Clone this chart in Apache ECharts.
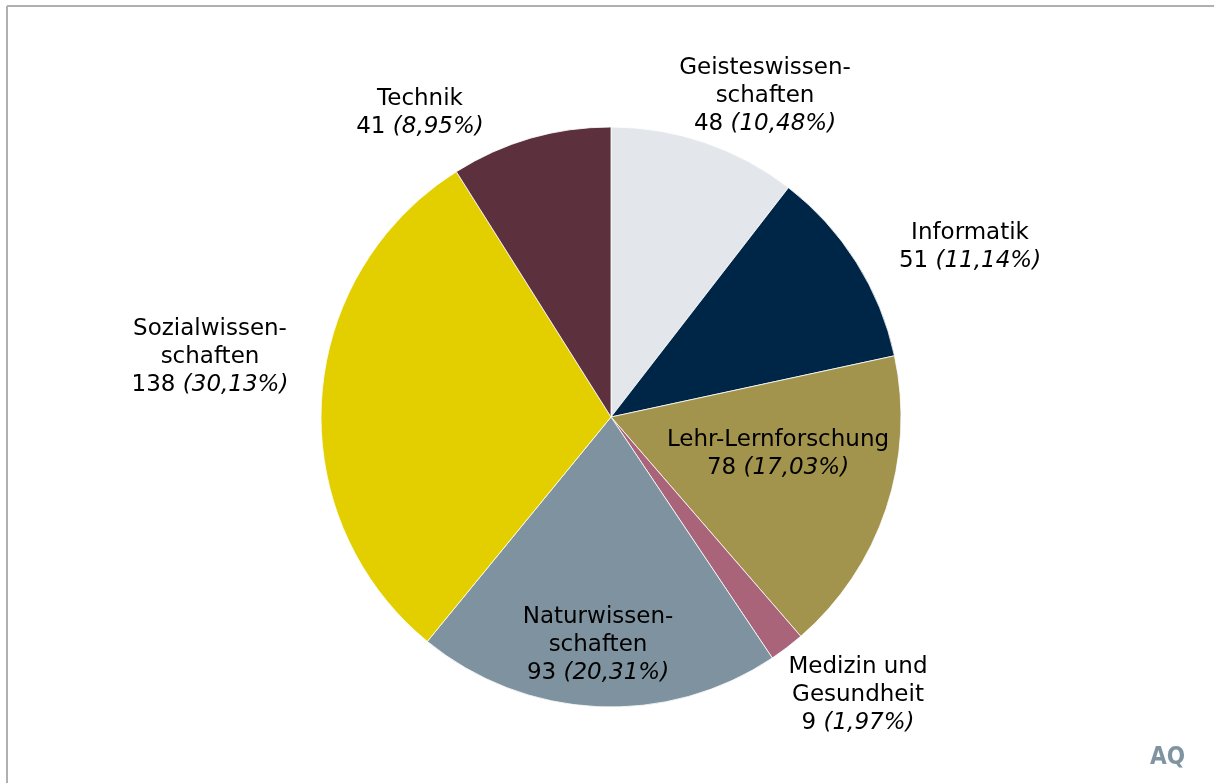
<!DOCTYPE html>
<html>
<head>
    <meta charset="utf-8">
    <script src="https://cdn.jsdelivr.net/npm/echarts@6/dist/echarts.min.js"></script>
    <style>
        html, body { margin: 0; padding: 0; background: #fff; }
    </style>
</head>
<body>
<div id="myChart" style="width: 1214px; height: 783px;"></div>

<script type="text/javascript">
    var chart = echarts.init(document.getElementById('myChart'));

    // Fachgebiete, im Uhrzeigersinn ab 12 Uhr
    var categories = ['Geisteswissen-\nschaften', 'Informatik', 'Lehr-Lernforschung', 'Medizin und\nGesundheit',
        'Naturwissen-\nschaften', 'Sozialwissen-\nschaften', 'Technik'];
    var values = [48, 51, 78, 9, 93, 138, 41];

    var colors = ['#e3e7ec', '#002647', '#a2944c', '#a9647a', '#7e939f', '#e3cf00', '#5c303d'];

    // Beschriftungsmitten (Layout, keine Daten)
    var labelPos = [[765, 96], [970, 247], [778, 454], [858, 695], [598, 645], [210, 357], [420, 113]];

    var total = values.reduce(function (a, b) { return a + b; }, 0);

    var data = categories.map(function (name, i) {
        return {
            name: name,
            value: values[i],
            itemStyle: {color: colors[i]},
        };
    });

    var font = '"DejaVu Sans", Verdana, sans-serif';

    var option = {
        animation: false,
        graphic: [
            {type: 'line', shape: {x1: 7, y1: 6, x2: 1214, y2: 6}, style: {stroke: '#b0b0b0', lineWidth: 2}},
            {type: 'line', shape: {x1: 7, y1: 6, x2: 7, y2: 783}, style: {stroke: '#b0b0b0', lineWidth: 2}},
            {
                type: 'text', left: 1150, top: 746,
                style: {text: 'AQ', fill: '#7f94a0', font: 'bold 24px "Liberation Sans Narrow", "DejaVu Sans Condensed", sans-serif'}
            },
        ],
        series: [{
            type: 'pie',
            center: [611, 417],
            radius: [0, 290],
            startAngle: 90,
            clockwise: true,
            data: data,
            itemStyle: {
                borderColor: '#ffffff',
                borderWidth: 0.8,
            },
            labelLine: {show: false},
            label: {
                show: true,
                position: 'outside',
                color: '#000',
                fontFamily: font,
                fontSize: 23,
                lineHeight: 28,
                align: 'center',
                formatter: function (p) {
                    var lines = p.name.split('\n').map(function (l) {
                        return '{n|' + l + '}';
                    });
                    var pct = (values[p.dataIndex] / total * 100).toFixed(2).replace('.', ',');
                    lines.push('{n|' + p.value + ' }{i|(' + pct + '%)}');
                    return lines.join('\n');
                },
                rich: {
                    n: {fontFamily: font, fontSize: 23, lineHeight: 28, color: '#000'},
                    i: {fontFamily: font, fontSize: 23, lineHeight: 28, color: '#000', fontStyle: 'italic'},
                },
            },
            labelLayout: function (params) {
                var pos = labelPos[params.dataIndex];
                return {
                    x: pos[0],
                    y: pos[1],
                    align: 'center',
                    verticalAlign: 'middle',
                };
            },
        }],
    };

    chart.setOption(option, true);
</script>
</body>
</html>
